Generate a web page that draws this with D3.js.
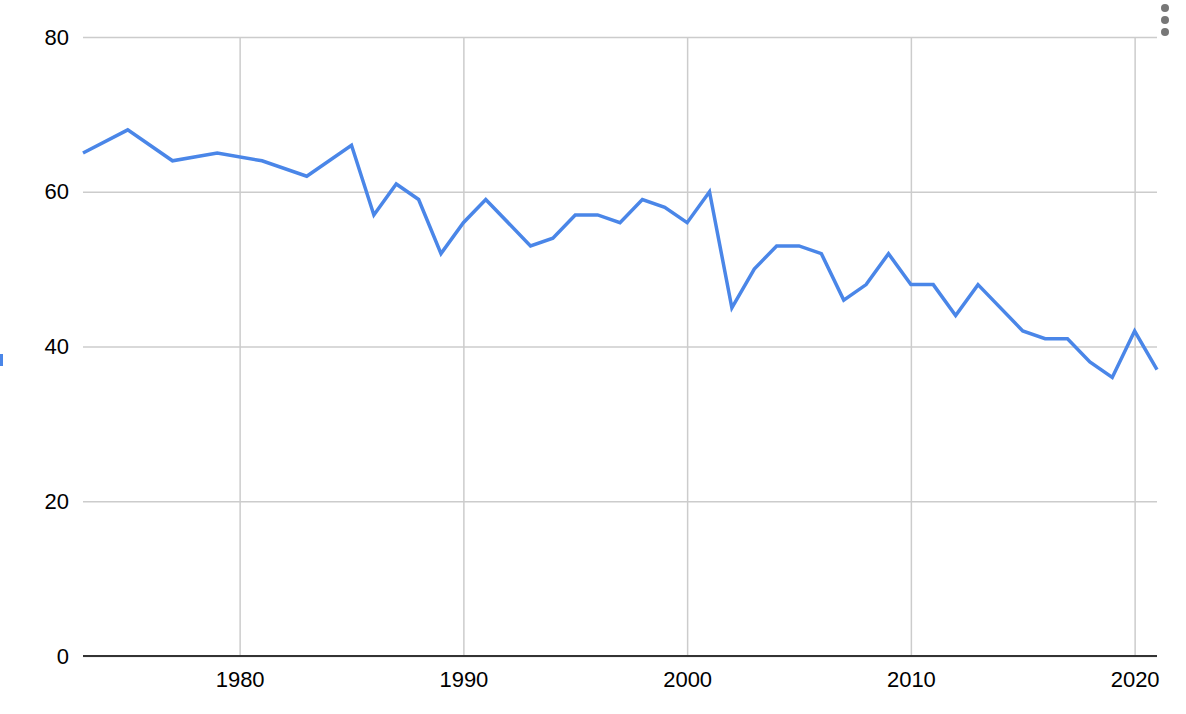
<!DOCTYPE html>
<html>
<head>
<meta charset="utf-8">
<script src="https://cdn.jsdelivr.net/npm/d3@7"></script>
<style>
  body { margin: 0; background: #fff; }
  svg { display: block; font-family: "Liberation Sans", Arial, sans-serif; }
</style>
</head>
<body>
<svg id="chart"></svg>
<script>
// ---------------- data ----------------
var years  = [1973, 1975, 1977, 1979, 1981, 1983, 1985, 1986, 1987, 1988, 1989, 1990, 1991, 1993, 1994,
              1995, 1996, 1997, 1998, 1999, 2000, 2001, 2002, 2003, 2004, 2005, 2006, 2007, 2008, 2009,
              2010, 2011, 2012, 2013, 2015, 2016, 2017, 2018, 2019, 2020, 2021];
var values = [65, 68, 64, 65, 64, 62, 66, 57, 61, 59, 52, 56, 59, 53, 54,
              57, 57, 56, 59, 58, 56, 60, 45, 50, 53, 53, 52, 46, 48, 52,
              48, 48, 44, 48, 42, 41, 41, 38, 36, 42, 37];
var xTicks = [1980, 1990, 2000, 2010, 2020];
var yTicks = [0, 20, 40, 60, 80];

var width = 1186, height = 714;
var plotLeft = 83, plotRight = 1157, plotTop = 37, plotBottom = 656;

var svg = d3.select('#chart')
            .attr('width', width)
            .attr('height', height);

// scales
var xScale = d3.scaleLinear().domain([1973, 2021]).range([plotLeft, plotRight]);
var yScale = d3.scaleLinear().domain([0, 80]).range([plotBottom, plotTop]);

// horizontal grid + y labels
svg.append('g')
    .attr('transform', `translate(${plotLeft}, 0)`)
    .call(d3.axisLeft(yScale).tickValues(yTicks).tickSize(-(plotRight - plotLeft)).tickFormat(d3.format('d')))
    .call(g => g.select('.domain').remove())
    .call(g => g.selectAll('line').attr('stroke', '#cccccc').attr('stroke-width', 1.5))
    .call(g => g.selectAll('text')
        .attr('x', -14)
        .attr('fill', '#000')
        .style('font-size', '22px')
        .style('font-family', '"Liberation Sans", Arial, sans-serif'));

// vertical grid + x labels
svg.append('g')
    .attr('transform', `translate(0, ${plotBottom})`)
    .call(d3.axisBottom(xScale).tickValues(xTicks).tickSize(-(plotBottom - plotTop)).tickFormat(d3.format('d')))
    .call(g => g.select('.domain').remove())
    .call(g => g.selectAll('line').attr('stroke', '#cccccc').attr('stroke-width', 1.5))
    .call(g => g.selectAll('text')
        .attr('y', 31)
        .attr('dy', 0)
        .attr('fill', '#000')
        .style('font-size', '22px')
        .style('font-family', '"Liberation Sans", Arial, sans-serif'));

// baseline
svg.append('line')
    .attr('x1', plotLeft).attr('x2', plotRight)
    .attr('y1', yScale(0)).attr('y2', yScale(0))
    .attr('stroke', '#333333')
    .attr('stroke-width', 2);

// series line
var line = d3.line()
    .x((d, i) => xScale(years[i]))
    .y(d => yScale(d));

svg.append('path')
    .datum(values)
    .attr('d', line)
    .attr('fill', 'none')
    .attr('stroke', '#4a86e8')
    .attr('stroke-width', 3.5)
    .attr('stroke-linejoin', 'miter');

// clipped legend mark at left edge
svg.append('rect')
    .attr('x', 0).attr('y', 354)
    .attr('width', 3).attr('height', 12)
    .attr('fill', '#4a86e8');

// menu dots top right
svg.selectAll('.dot')
    .data([8, 20, 32])
    .enter()
    .append('circle')
      .attr('cx', 1165)
      .attr('cy', d => d)
      .attr('r', 4)
      .attr('fill', '#777777');
</script>
</body>
</html>
